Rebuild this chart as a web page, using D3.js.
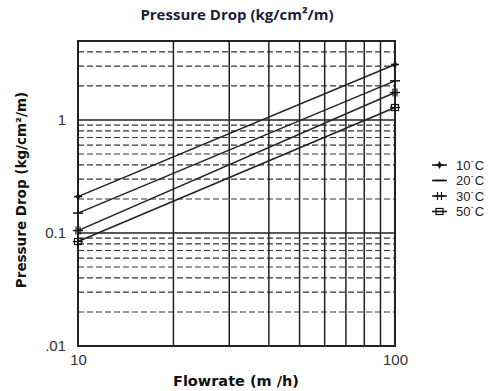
<!DOCTYPE html>
<html><head><meta charset="utf-8">
<script src="https://cdn.jsdelivr.net/npm/d3@7"></script>
<style>body{margin:0;background:#fff}svg{display:block}</style>
</head><body>
<script>
const flowrates = [10, 100];
const series = ["10'C", "20'C", "30'C", "50'C"];
const values10C = [0.21, 3.1];
const values20C = [0.15, 2.22];
const values30C = [0.105, 1.75];
const values50C = [0.084, 1.29];
const markers = ["dot", "dash", "cross2", "square"];
const xTickLabels = ["10", "100"];
const yTickValues = [0.01, 0.1, 1];
const yTickLabels = [".01", "0.1", "1"];

const W = 498, H = 391;
const m = {l: 78, r: 395, t: 41, b: 346};
const svg = d3.select("body").append("svg").attr("width", W).attr("height", H);
const x = d3.scaleLog().domain([10, 100]).range([m.l, m.r]);
const y = d3.scaleLog().domain([0.01, 5]).range([m.b, m.t]);

// minor dashed horizontal gridlines
const minorY = [];
[0.01, 0.1, 1].forEach(d => { for (let k = 2; k <= 9; k++) { const v = d * k; if (v <= 5) minorY.push(v); } });
svg.append("g").selectAll("line").data(minorY).join("line")
  .attr("x1", m.l).attr("x2", m.r).attr("y1", d => y(d)).attr("y2", d => y(d))
  .attr("stroke", "#333").attr("stroke-width", 1.2).attr("stroke-dasharray", "6,3");
// major horizontal
svg.append("g").selectAll("line").data([0.1, 1]).join("line")
  .attr("x1", m.l).attr("x2", m.r).attr("y1", d => y(d)).attr("y2", d => y(d))
  .attr("stroke", "#222").attr("stroke-width", 1.5);
// vertical lines
const vx = d3.range(20, 100, 10);
svg.append("g").selectAll("line").data(vx).join("line")
  .attr("x1", d => x(d)).attr("x2", d => x(d)).attr("y1", m.t).attr("y2", m.b)
  .attr("stroke", "#222").attr("stroke-width", 1.5);
// border
svg.append("rect").attr("x", m.l).attr("y", m.t).attr("width", m.r - m.l).attr("height", m.b - m.t)
  .attr("fill", "none").attr("stroke", "#222").attr("stroke-width", 2);

// axes (labels only)
const xAxis = d3.axisBottom(x).tickValues([10, 100]).tickFormat((d, i) => xTickLabels[i]).tickSize(0).tickPadding(8);
const gx = svg.append("g").attr("transform", `translate(0,${m.b})`).call(xAxis);
gx.select(".domain").remove();
gx.selectAll("text").attr("font-family", "Liberation Sans, Arial, sans-serif").attr("font-size", 15).attr("fill", "#333");
const yAxis = d3.axisLeft(y).tickValues(yTickValues).tickFormat((d, i) => yTickLabels[i]).tickSize(0).tickPadding(12);
const gy = svg.append("g").attr("transform", `translate(${m.l},0)`).call(yAxis);
gy.select(".domain").remove();
gy.selectAll("text").attr("font-family", "Liberation Sans, Arial, sans-serif").attr("font-size", 15).attr("fill", "#333");

// series lines
const all = [values10C, values20C, values30C, values50C];
const line = d3.line().x((d, i) => x(flowrates[i])).y(d => y(d));
all.forEach(vals => {
  svg.append("path").attr("d", line(vals)).attr("fill", "none").attr("stroke", "#222").attr("stroke-width", 1.5);
});

function drawMarker(g, type, cx, cy) {
  if (type === "dot") {
    g.append("line").attr("x1", cx - 4).attr("x2", cx + 4).attr("y1", cy).attr("y2", cy).attr("stroke", "#111").attr("stroke-width", 1.5);
    g.append("path").attr("d", d3.symbol(d3.symbolDiamond, 18)()).attr("transform", `translate(${cx},${cy})`).attr("fill", "#111");
  } else if (type === "dash") {
    g.append("line").attr("x1", cx - 5).attr("x2", cx + 5).attr("y1", cy).attr("y2", cy).attr("stroke", "#111").attr("stroke-width", 1.5);
  } else if (type === "cross2") {
    g.append("line").attr("x1", cx - 5).attr("x2", cx + 5).attr("y1", cy).attr("y2", cy).attr("stroke", "#111").attr("stroke-width", 1.3);
    [-2, 2].forEach(o => g.append("line").attr("x1", cx + o).attr("x2", cx + o).attr("y1", cy - 4).attr("y2", cy + 4).attr("stroke", "#111").attr("stroke-width", 1.2));
  } else {
    g.append("rect").attr("x", cx - 3.5).attr("y", cy - 3).attr("width", 7).attr("height", 6).attr("fill", "none").attr("stroke", "#111").attr("stroke-width", 1.2);
    g.append("line").attr("x1", cx - 5).attr("x2", cx + 5).attr("y1", cy).attr("y2", cy).attr("stroke", "#111").attr("stroke-width", 1.2);
  }
}
const mg = svg.append("g");
all.forEach((vals, si) => vals.forEach((v, i) => drawMarker(mg, markers[si], x(flowrates[i]), y(v))));

// legend
const lg = svg.append("g");
series.forEach((s, i) => {
  const ly = 165 + i * 15.5;
  lg.append("line").attr("x1", 432).attr("x2", 447).attr("y1", ly).attr("y2", ly).attr("stroke", "#111").attr("stroke-width", 1.5);
  drawMarker(lg, markers[i], 439.5, ly);
  lg.append("text").attr("x", 456).attr("y", ly + 4.5).text(s.replace("'", "\u02D9"))
    .attr("font-family", "Liberation Sans, Arial, sans-serif").attr("font-size", 13).attr("fill", "#222");
});

// titles
svg.append("text").attr("x", 237).attr("y", 20).attr("text-anchor", "middle")
  .attr("font-family", "Open Sans, sans-serif").attr("font-weight", "bold").attr("font-size", 15).attr("fill", "#1c1c3c")
  .text("Pressure Drop (kg/cm²/m)");
svg.append("text").attr("x", 236).attr("y", 386).attr("text-anchor", "middle")
  .attr("font-family", "DejaVu Sans, sans-serif").attr("font-weight", "bold").attr("font-size", 14.5).attr("fill", "#111")
  .text("Flowrate (m /h)");
svg.append("text").attr("transform", "translate(26,190) rotate(-90)").attr("text-anchor", "middle")
  .attr("font-family", "DejaVu Sans, sans-serif").attr("font-weight", "bold").attr("font-size", 13.5).attr("fill", "#111")
  .text("Pressure Drop (kg/cm²/m)");
</script>
</body></html>
